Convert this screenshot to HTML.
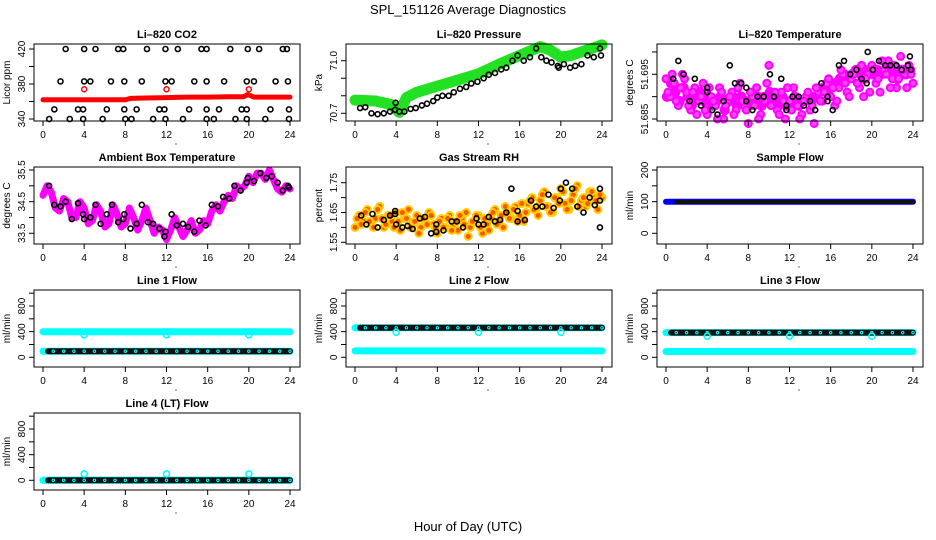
<!DOCTYPE html>
<html><head><meta charset="utf-8">
<style>
html,body{margin:0;padding:0;background:#fff;}
svg{display:block;font-family:"Liberation Sans",Arial,sans-serif;}
</style></head>
<body>
<svg id="chart" width="936" height="540" viewBox="0 0 936 540">
<text x="468" y="14" text-anchor="middle" font-size="13">SPL_151126  Average Diagnostics</text>
<text x="468" y="531" text-anchor="middle" font-size="13">Hour of Day (UTC)</text>
</svg>
<script>
// ---------- data ----------
const xTicks=[0,4,8,12,16,20,24];
// CO2
const co2BlackHours=[2.2,4.0,5.1,7.3,7.8,10.1,11.9,13.1,15.4,15.9,18.2,19.9,21.0,23.3,23.7,1.7,4.0,4.6,6.6,7.9,9.6,11.9,12.5,14.7,15.9,17.6,19.8,20.5,22.6,23.8,1.1,3.4,3.9,6.2,7.9,9.1,11.3,11.8,14.2,15.9,17.1,19.3,19.8,22.1,23.9,0.6,2.6,3.9,5.8,8.0,8.6,10.7,11.9,13.6,15.9,16.6,18.7,19.8,21.6,23.9];
const co2BlackVals=[420,420,420,420,420,420,420,420,420,420,420,420,420,420,420,383,383,383,383,383,383,383,383,383,383,383,383,383,383,383,351,351,351,351,351,351,351,351,351,351,351,351,351,351,351,340,340,340,340,340,340,340,340,340,340,340,340,340,340,340];
const co2RedHours=[0,2,4,6,8,8.5,10,12,14,16,18,19.5,19.9,20.5,22,24];
const co2RedVals=[362,362,362,362,362,363.5,364,364.5,365,365,365.5,365.5,368,365,365,365];
const co2OutHours=[4,12,20];
const co2OutVals=[374,374,374];
// Pressure
const presGreenHours=[0,2,3.5,4.3,5,6,8,10,12,14,16,18,19,20,21,22,23,24];
const presGreenVals=[70.775,70.77,70.75,70.705,70.79,70.82,70.855,70.89,70.925,70.98,71.03,71.08,71.06,71.02,71.03,71.05,71.07,71.09];
const presBlackHours=[0.5,1.0,1.6,2.2,2.8,3.4,3.9,3.95,4.3,4.8,5.4,5.9,6.5,7.0,7.6,8.0,8.5,9.1,9.6,10.2,10.8,11.3,11.9,12.5,13.0,13.6,14.2,14.7,15.3,15.8,16.4,17.0,17.6,18.1,18.6,19.1,19.7,19.8,20.3,20.9,21.4,22.0,22.6,23.2,23.8,23.9];
const presBlackVals=[70.73,70.735,70.70,70.695,70.70,70.71,70.72,70.76,70.71,70.71,70.725,70.73,70.745,70.755,70.77,70.79,70.80,70.80,70.82,70.84,70.85,70.87,70.88,70.90,70.92,70.93,70.95,70.96,71.0,71.03,71.00,71.02,71.07,71.02,71.0,70.99,70.97,70.96,70.98,70.96,70.97,70.98,71.03,71.02,71.07,71.03];
// Li-820 temperature
const ltMagA=[51.694,51.690,51.693,51.688,51.695,51.691,51.687,51.692,51.689,51.693,51.686,51.690,51.688,51.692,51.685,51.689,51.691,51.687,51.693,51.688,51.684,51.690,51.692,51.686,51.689,51.697,51.690,51.687,51.691,51.685,51.689,51.692,51.688,51.686,51.690,51.687,51.684,51.691,51.689,51.693,51.690,51.688,51.692,51.695,51.691,51.694,51.696,51.692,51.690,51.695,51.697,51.693,51.691,51.696,51.698,51.694,51.692,51.699,51.695,51.697,51.693];
const ltMagB=[51.691,51.695,51.689,51.692,51.694,51.688,51.691,51.686,51.690,51.687,51.692,51.689,51.685,51.691,51.688,51.690,51.686,51.692,51.689,51.687,51.691,51.688,51.685,51.690,51.693,51.688,51.691,51.686,51.689,51.692,51.687,51.690,51.685,51.689,51.691,51.688,51.692,51.689,51.691,51.694,51.692,51.689,51.696,51.693,51.690,51.695,51.693,51.697,51.694,51.691,51.696,51.694,51.698,51.695,51.692,51.697,51.694,51.696,51.692,51.695];
const ltMagC=[51.690,51.693,51.691,51.689,51.692,51.690,51.688,51.690,51.691,51.689,51.690,51.688,51.689,51.690,51.687,51.689,51.690,51.688,51.690,51.689,51.688,51.689,51.690,51.688,51.690,51.691,51.689,51.688,51.690,51.688,51.689,51.690,51.688,51.689,51.690,51.689,51.690,51.691,51.692,51.693,51.692,51.693,51.694,51.695,51.694,51.695,51.696,51.695,51.694,51.696,51.695,51.696,51.695,51.696,51.697,51.695,51.694,51.696,51.695,51.696];
const ltBlackHours=[0.7,1.2,1.7,2.3,2.8,3.4,4.0,4.0,4.5,5.0,5.6,6.2,6.7,7.3,7.8,7.8,8.4,8.9,9.5,10.1,10.5,11.2,11.7,11.7,12.3,12.9,13.4,14.0,14.5,15.1,15.7,15.7,16.2,16.8,17.3,17.9,18.5,19.0,19.5,19.6,20.1,20.7,21.3,21.8,22.4,22.9,23.5,23.7,23.8];
const ltBlackVals=[51.694,51.698,51.695,51.689,51.694,51.688,51.691,51.692,51.687,51.686,51.689,51.697,51.693,51.693,51.692,51.689,51.687,51.690,51.690,51.695,51.690,51.694,51.688,51.687,51.690,51.690,51.688,51.689,51.687,51.693,51.690,51.689,51.687,51.697,51.698,51.695,51.696,51.694,51.693,51.700,51.696,51.698,51.697,51.697,51.697,51.696,51.697,51.699,51.696];
// Ambient box temperature (samples every 0.4 h)
const ambMag=[34.7,35.0,34.8,34.3,34.2,34.6,34.5,34.0,34.0,34.5,34.3,33.8,33.9,34.4,34.2,33.7,33.8,34.4,34.1,33.7,33.8,34.3,34.0,33.6,33.9,34.3,33.9,33.5,33.7,33.6,33.3,33.6,34.0,33.7,33.4,33.6,33.9,33.5,33.6,33.9,33.8,34.2,34.4,34.2,34.5,34.7,34.6,35.0,34.9,35.0,35.3,35.1,35.4,35.4,35.2,35.5,35.2,34.9,34.8,35.0,34.9];
const ambBlackHours=[0.6,1.1,1.7,2.2,2.8,3.4,3.9,4.0,4.6,5.1,5.6,6.2,6.7,7.3,7.8,7.9,8.5,9.1,9.6,10.2,10.7,11.3,11.8,11.9,12.5,13.0,13.6,14.1,14.7,15.2,15.8,16.4,17.0,17.5,18.1,18.6,19.2,19.8,19.9,20.5,21.1,21.7,22.2,22.8,23.3,23.8,23.9];
const ambBlackVals=[35.0,34.4,34.35,34.5,33.95,34.45,34.1,33.95,34.0,34.4,33.8,34.1,34.4,33.85,33.95,34.1,33.65,33.8,34.4,33.85,33.8,33.65,33.4,33.55,34.1,33.75,33.8,33.7,33.55,33.9,33.75,34.4,34.35,34.65,34.6,35.0,34.85,35.1,35.25,35.15,35.4,35.25,35.3,35.1,34.85,35.0,34.95];
// Gas stream RH
const rhA=[1.60,1.64,1.62,1.66,1.61,1.63,1.67,1.60,1.64,1.62,1.65,1.59,1.63,1.66,1.61,1.64,1.60,1.62,1.65,1.61,1.58,1.63,1.60,1.64,1.61,1.59,1.63,1.65,1.60,1.62,1.64,1.58,1.61,1.63,1.66,1.62,1.60,1.65,1.63,1.67,1.64,1.62,1.68,1.70,1.66,1.69,1.72,1.67,1.65,1.70,1.73,1.68,1.66,1.71,1.74,1.69,1.67,1.72,1.70,1.66,1.70];
const rhB=[1.63,1.61,1.65,1.62,1.60,1.66,1.63,1.61,1.64,1.60,1.62,1.65,1.63,1.60,1.62,1.58,1.63,1.61,1.64,1.60,1.62,1.60,1.63,1.59,1.62,1.64,1.61,1.57,1.62,1.64,1.60,1.63,1.59,1.65,1.61,1.64,1.67,1.63,1.66,1.62,1.68,1.65,1.69,1.66,1.64,1.71,1.67,1.65,1.70,1.68,1.72,1.66,1.69,1.73,1.67,1.70,1.68,1.72,1.69,1.71];
const rhBlackHours=[0.6,1.1,1.7,2.2,2.8,3.4,3.9,3.9,4.0,4.6,5.1,5.6,6.3,6.8,7.4,7.9,7.9,8.6,9.4,9.9,10.5,11.8,12.0,12.5,13.0,13.6,14.1,14.7,15.2,15.8,15.8,16.5,17.1,17.6,18.2,18.8,19.3,19.9,20.0,20.5,21.1,21.6,22.2,22.8,23.3,23.8,23.8,23.8];
const rhBlackVals=[1.64,1.61,1.645,1.60,1.625,1.64,1.645,1.655,1.61,1.60,1.605,1.595,1.63,1.635,1.58,1.61,1.585,1.59,1.62,1.62,1.60,1.63,1.61,1.61,1.635,1.62,1.625,1.65,1.73,1.655,1.62,1.625,1.69,1.67,1.67,1.71,1.665,1.69,1.73,1.75,1.73,1.67,1.65,1.70,1.675,1.69,1.73,1.60];
// Flows (hourly)
const flowHours=[0,1,2,3,4,5,6,7,8,9,10,11,12,13,14,15,16,17,18,19,20,21,22,23,24];
const sampleBlue=[100,100,100,100,100,100,100,100,100,100,100,100,100,100,100,100,100,100,100,100,100,100,100,100,100];
const sampleBlack=[99,99,99,99,99,99,99,99,99,99,99,99,99,99,99,99,99,99,99,99,99,99,99,99,99];
const line1Cyan=[400,400,400,400,400,400,400,400,400,400,400,400,400,400,400,400,400,400,400,400,400,400,400,400,400];
const line1Black=[95,95,95,95,95,95,95,95,95,95,95,95,95,95,95,95,95,95,95,95,95,95,95,95,95];
const line2Cyan=[100,100,100,100,100,100,100,100,100,100,100,100,100,100,100,100,100,100,100,100,100,100,100,100,100];
const line2Black=[460,460,460,460,460,460,460,460,460,460,460,460,460,460,460,460,460,460,460,460,460,460,460,460,460];
const line3Cyan=[90,90,90,90,90,90,90,90,90,90,90,90,90,90,90,90,90,90,90,90,90,90,90,90,90];
const line3Black=[385,385,385,385,385,385,385,385,385,385,385,385,385,385,385,385,385,385,385,385,385,385,385,385,385];
const line4Cyan=[0,0,0,0,0,0,0,0,0,0,0,0,0,0,0,0,0,0,0,0,0,0,0,0,0];
const line4Black=[0,0,0,0,0,0,0,0,0,0,0,0,0,0,0,0,0,0,0,0,0,0,0,0,0];
const dipHours=[4,12,20];
const line1Dips=[350,350,350];
const line2Dips=[390,390,390];
const line3Dips=[330,330,330];
const line4Dips=[100,100,100];

// ---------- drawing ----------
const NS='http://www.w3.org/2000/svg';
const svg=document.getElementById('chart');
function mk(tag,attrs,parent){const e=document.createElementNS(NS,tag);for(const k in attrs)e.setAttribute(k,attrs[k]);(parent||svg).appendChild(e);return e;}
const rowTop=[44,167,290,413], colLeft=[34,346,657], W=266, H=77;

function panel(name,col,row,title,ylab,v0,p0,v1,p1,yTicks,yLabels){
  const L=colLeft[col],T=rowTop[row];
  const g=mk('g',{});
  
  
  const xs=h=>L+9+h*(247/24);
  const ys=v=>T+p0+(v-v0)*(p1-p0)/(v1-v0);
  const t=mk('text',{x:L+W/2,y:T-6,'text-anchor':'middle','font-size':'11','font-weight':'bold'},g);
  t.textContent=title;
  
  
  const plot=mk('g',{},g);
  
  
  const box=mk('rect',{x:L,y:T,width:W,height:H,fill:'none',stroke:'#000','stroke-width':1},g);
  
  
  const xa=mk('g',{},g);
  
  
  mk('line',{x1:xs(0),x2:xs(24),y1:T+H,y2:T+H,stroke:'#000'},xa);
  xTicks.forEach(v=>{
    mk('line',{x1:xs(v),x2:xs(v),y1:T+H,y2:T+H+5,stroke:'#000'},xa);
    const tl=mk('text',{x:xs(v),y:T+H+17,'text-anchor':'middle','font-size':'10'},xa);
    tl.textContent=v;
    
    
  });
  mk('circle',{cx:L+W/2+9,cy:T+H+23,r:0.6,fill:'#000'},xa);
  const ya=mk('g',{},g);
  
  
  mk('line',{x1:L,x2:L,y1:ys(yTicks[0]),y2:ys(yTicks[yTicks.length-1]),stroke:'#000'},ya);
  yTicks.forEach((v,i)=>{
    const y=ys(v);
    mk('line',{x1:L-5,x2:L,y1:y,y2:y,stroke:'#000'},ya);
    if(yLabels[i]!==''){
      const tl=mk('text',{x:L-9,y:y,'text-anchor':'middle','font-size':'10',transform:`rotate(-90 ${L-9} ${y})`},ya);
      tl.textContent=yLabels[i];
      
      
    }
  });
  const yl=mk('text',{x:L-24,y:T+H/2,'text-anchor':'middle','font-size':'10',transform:`rotate(-90 ${L-24} ${T+H/2})`},g);
  yl.textContent=ylab;
  
  
  return {xs,ys,plot};
}
function pts(p,hours,vals,color,r,sw,fill,nm){
  hours.forEach((h,i)=>{
    const c=mk('circle',{cx:p.xs(h),cy:p.ys(vals[i]),r:r,fill:fill||'none',stroke:color,'stroke-width':sw},p.plot);
    
    
  });
}
function band(p,hours,vals,color,w,nm){
  const d=hours.map((h,i)=>p.xs(h).toFixed(1)+','+p.ys(vals[i]).toFixed(1)).join(' ');
  const l=mk('polyline',{points:d,fill:'none',stroke:color,'stroke-width':w,'stroke-linejoin':'round','stroke-linecap':'round'},p.plot);
  
  
}
function stepHours(n,start,step){const a=[];for(let i=0;i<n;i++)a.push(start+i*step);return a;}

// CO2
let p=panel('co2',0,0,'Li\u2013820 CO2','Licor ppm',340,75,420,5,[340,360,380,400,420],['340','','380','','420']);
band(p,co2RedHours,co2RedVals,'#ff0000',5,'co2-series-red');
pts(p,co2OutHours,co2OutVals,'#ff0000',2.5,1.5,'none','co2-outlier');
pts(p,co2BlackHours,co2BlackVals,'#000',2.5,1.6,'none','co2-point-black');
// Pressure
p=panel('pressure',1,0,'Li\u2013820 Pressure','kPa',70.7,69.3,71.0,16.7,[70.7,70.8,70.9,71.0],['70.7','','','71.0']);
band(p,presGreenHours,presGreenVals,'#22e022',11,'pressure-series-green');
pts(p,presBlackHours,presBlackVals,'#000',2.5,1.6,'none','pressure-point-black');
// Li temperature
p=panel('li-temp',2,0,'Li\u2013820 Temperature','degrees C',51.685,75,51.695,30.3,[51.685,51.69,51.695,51.70],['51.685','','51.695','']);
pts(p,stepHours(ltMagC.length,0.1,0.4),ltMagC,'#ff00ff',4,2.5,'#ff00ff','li-temp-point-magenta');
pts(p,stepHours(ltMagA.length,0,0.4),ltMagA,'#ff00ff',3.5,2,'#ff44ff','li-temp-point-magenta');
pts(p,stepHours(ltMagB.length,0.2,0.4),ltMagB,'#ff00ff',3.5,2,'#ff44ff','li-temp-point-magenta');
pts(p,ltBlackHours,ltBlackVals,'#000',2.5,1.6,'none','li-temp-point-black');
// Ambient
p=panel('ambient-temp',0,1,'Ambient Box Temperature','degrees C',33.5,66.3,35.5,3,[33.5,34,34.5,35,35.5],['33.5','','34.5','','35.5']);
band(p,stepHours(ambMag.length,0,0.4),ambMag,'#ff00ff',7,'ambient-series-magenta');
pts(p,ambBlackHours,ambBlackVals,'#000',2.5,1.6,'none','ambient-point-black');
// RH
p=panel('rh',1,1,'Gas Stream RH','percent',1.55,75.3,1.75,15.7,[1.55,1.6,1.65,1.7,1.75],['1.55','','1.65','','1.75']);
pts(p,stepHours(rhA.length,0,0.4),rhA,'#ffcc00',3.5,2,'#ff5500','rh-point-orange');
pts(p,stepHours(rhB.length,0.2,0.4),rhB,'#ffcc00',3.5,2,'#ff5500','rh-point-orange');
pts(p,rhBlackHours,rhBlackVals,'#000',2.5,1.6,'none','rh-point-black');
// Sample flow
p=panel('sample-flow',2,1,'Sample Flow','ml/min',0,66.3,200,3,[0,50,100,150,200],['0','','100','','200']);
band(p,flowHours,sampleBlue,'#0000ff',6,'sample-series-blue');
band(p,flowHours.slice(1),sampleBlack.slice(1),'#111',4,'sample-series-black');
const flowTicks=[0,200,400,600,800,1000], flowLabels=['0','','400','','800',''];
function flowPanel(name,col,row,title,cyan,black,dips){
  const q=panel(name,col,row,title,'ml/min',0,67.3,800,16,flowTicks,flowLabels);
  band(q,flowHours,cyan,'#00ffff',7,name+'-series-cyan');
  band(q,flowHours,black,'#00ffff',7,name+'-series-cyan-under');
  band(q,[0.5].concat(flowHours.slice(1)),[black[0]].concat(black.slice(1)),'#111',6,name+'-series-black');
  pts(q,flowHours.slice(1),black.slice(1),'#00ffff',1.2,1,'none',name+'-point-marker');
  pts(q,dipHours,dips,'#00ffff',3,1.6,'none',name+'-outlier');
}
flowPanel('line1-flow',0,2,'Line 1 Flow',line1Cyan,line1Black,line1Dips);
flowPanel('line2-flow',1,2,'Line 2 Flow',line2Cyan,line2Black,line2Dips);
flowPanel('line3-flow',2,2,'Line 3 Flow',line3Cyan,line3Black,line3Dips);
flowPanel('line4-flow',0,3,'Line 4 (LT) Flow',line4Cyan,line4Black,line4Dips);
</script>
</body></html>
